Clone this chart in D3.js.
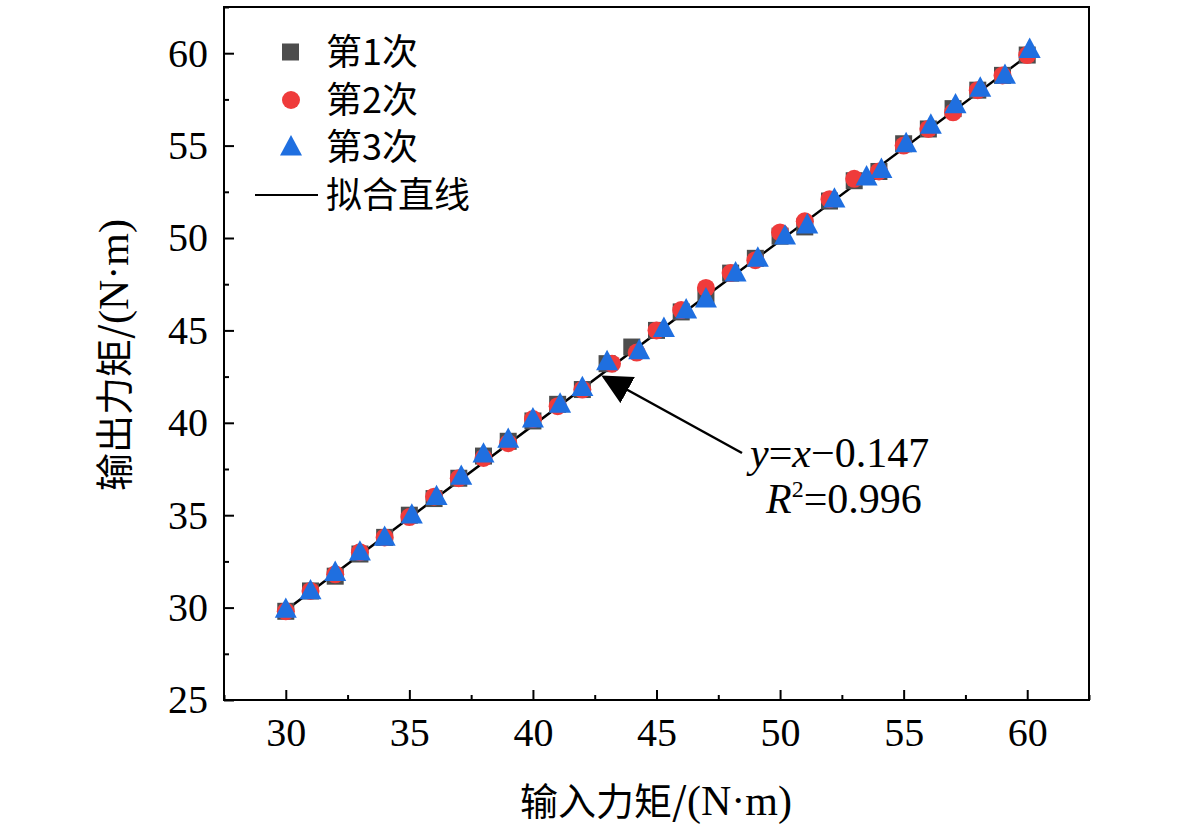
<!DOCTYPE html>
<html><head><meta charset="utf-8">
<script src="https://cdn.jsdelivr.net/npm/d3@7"></script>
<style>body{margin:0;background:#fff}</style>
</head><body>
<svg width="1181" height="834"></svg>
<script>
// measured data, three runs
var x1 = [30,31,32,33,34,35,36,37,38,39,40,41,42,43,44,45,46,47,48,49,50,51,52,53,54,55,56,57,58,59,60];
var y1 = [29.8,30.9,31.7,32.9,33.8,35.0,35.9,37.0,38.2,39.0,40.1,41.0,41.8,43.2,44.1,45.0,46.0,46.8,48.1,48.9,50.1,50.6,52.0,53.1,53.6,55.1,55.9,57.0,58.0,58.8,59.9];
var x2 = [30,31,32,33,34,35,36,37,38,39,40,41,42,43.2,44.2,45,46,47,48,49,50,51,52,53,54,55,56,57,58,59,60];
var y2 = [29.8,30.9,31.8,33.0,33.8,34.9,36.0,37.0,38.1,38.9,40.2,40.9,41.8,43.2,43.8,45.0,46.1,47.3,48.1,48.8,50.3,50.9,52.1,53.2,53.6,55.0,55.9,56.8,58.0,58.8,59.9];
var x3 = [30,31,32,33,34,35.1,36.1,37.1,38,39,40,41.1,42,43,44.3,45.3,46.2,47,48.2,49.1,50.2,51.1,52.2,53.5,54.1,55.1,56.1,57.1,58.1,59.1,60.1];
var y3 = [29.9,30.9,31.9,33.0,33.8,35.0,36.0,37.1,38.3,39.1,40.2,41.0,41.9,43.3,43.9,45.1,46.1,46.7,48.1,48.9,50.1,50.7,52.1,53.3,53.7,55.1,56.1,57.2,58.1,58.8,60.2];
var fitX = [30,60];
var slope = 1, intercept = -0.147;
var xTicks = [30,35,40,45,50,55,60];
var yTicks = [25,30,35,40,45,50,55,60];
var legendNames = ["第1次","第2次","第3次","拟合直线"];

var svg = d3.select("svg");
var font = "'Liberation Serif','Times New Roman',serif";
var cjk = "'Noto Sans CJK SC',serif";
var x = d3.scaleLinear().domain([27.5,62.5]).range([224,1089]);
var y = d3.scaleLinear().domain([25,62.5]).range([700,7]);

// axes
var gx = svg.append("g").attr("transform","translate(0,700)")
  .call(d3.axisBottom(x).tickValues(xTicks).tickSize(-10).tickPadding(18));
var gx2 = svg.append("g").attr("transform","translate(0,700)")
  .call(d3.axisBottom(x).tickValues(d3.range(27.5,62.6,2.5).filter(function(d){return d%5!=0;})).tickSize(-5).tickFormat(""));
var gy = svg.append("g").attr("transform","translate(224,0)")
  .call(d3.axisLeft(y).tickValues(yTicks).tickSize(-10).tickPadding(16));
var gy2 = svg.append("g").attr("transform","translate(224,0)")
  .call(d3.axisLeft(y).tickValues(d3.range(27.5,62.6,5)).tickSize(-5).tickFormat(""));
[gx,gx2,gy,gy2].forEach(function(g){
  g.attr("font-family",font);
  g.selectAll(".domain").remove();
  g.selectAll("line").attr("stroke","#000").attr("stroke-width",2);
  g.selectAll("text").style("font-family",font).style("font-size","40px").attr("fill","#000");
});
svg.append("rect").attr("x",224).attr("y",7).attr("width",865).attr("height",693)
  .attr("fill","none").attr("stroke","#000").attr("stroke-width",2);

// fit line
svg.append("line").attr("x1",x(fitX[0])).attr("y1",y(fitX[0]*slope+intercept))
  .attr("x2",x(fitX[1])).attr("y2",y(fitX[1]*slope+intercept))
  .attr("stroke","#000").attr("stroke-width",2.5);

function tri(cx,cy,s){return "M"+cx+","+(cy-s*0.6)+"L"+(cx+s*0.55)+","+(cy+s*0.42)+"L"+(cx-s*0.55)+","+(cy+s*0.42)+"Z";}

svg.append("g").selectAll("rect").data(x1).enter().append("rect")
  .attr("x",function(d){return x(d)-8.5;}).attr("y",function(d,i){return y(y1[i])-8.5;})
  .attr("width",17).attr("height",17).attr("fill","#4d4d4d");
svg.append("g").selectAll("circle").data(x2).enter().append("circle")
  .attr("cx",function(d){return x(d);}).attr("cy",function(d,i){return y(y2[i]);})
  .attr("r",9).attr("fill","#ef3b3b");
svg.append("g").selectAll("path").data(x3).enter().append("path")
  .attr("d",function(d,i){return tri(x(d),y(y3[i]),20);}).attr("fill","#1f6fe0");

// legend
var ly = [52,100,147,195];
svg.append("rect").attr("x",282).attr("y",ly[0]-8.5).attr("width",17).attr("height",17).attr("fill","#4d4d4d");
svg.append("circle").attr("cx",291).attr("cy",ly[1]).attr("r",9).attr("fill","#ef3b3b");
svg.append("path").attr("d",tri(291,ly[2],20)).attr("fill","#1f6fe0");
svg.append("line").attr("x1",255).attr("x2",318).attr("y1",ly[3]).attr("y2",ly[3]).attr("stroke","#000").attr("stroke-width",2);
legendNames.forEach(function(n,i){
  svg.append("text").attr("x",326).attr("y",ly[i]+13).attr("font-family",cjk).attr("font-size",36).text(n);
});

// annotation
svg.append("defs").append("marker").attr("id","ah").attr("viewBox","0 0 10 10")
  .attr("refX",9).attr("refY",5).attr("markerWidth",30).attr("markerHeight",30)
  .attr("orient","auto").attr("markerUnits","userSpaceOnUse")
  .append("path").attr("d","M0,0L10,5L0,10Z");
svg.append("line").attr("x1",742).attr("y1",453).attr("x2",604).attr("y2",377)
  .attr("stroke","#000").attr("stroke-width",2.5).attr("marker-end","url(#ah)");
var t1 = svg.append("text").attr("x",750).attr("y",467).attr("font-family",font).attr("font-size",42);
t1.append("tspan").attr("font-style","italic").text("y");
t1.append("tspan").text("=");
t1.append("tspan").attr("font-style","italic").text("x");
t1.append("tspan").text("−0.147");
var t2 = svg.append("text").attr("x",766).attr("y",513).attr("font-family",font).attr("font-size",42);
t2.append("tspan").attr("font-style","italic").text("R");
t2.append("tspan").attr("font-size",24).attr("dy",-16).text("2");
t2.append("tspan").attr("dy",16).text("=0.996");

// axis titles
svg.append("text").attr("x",656).attr("y",815).attr("text-anchor","middle")
  .attr("font-size",38).attr("font-family",cjk).text("输入力矩/")
  .append("tspan").attr("font-family",font).attr("font-size",42).text("(N·m)");
svg.append("text").attr("transform","translate(128,355) rotate(-90)").attr("text-anchor","middle")
  .attr("font-size",38).attr("font-family",cjk).text("输出力矩/")
  .append("tspan").attr("font-family",font).attr("font-size",42).text("(N·m)");
</script>
</body></html>
